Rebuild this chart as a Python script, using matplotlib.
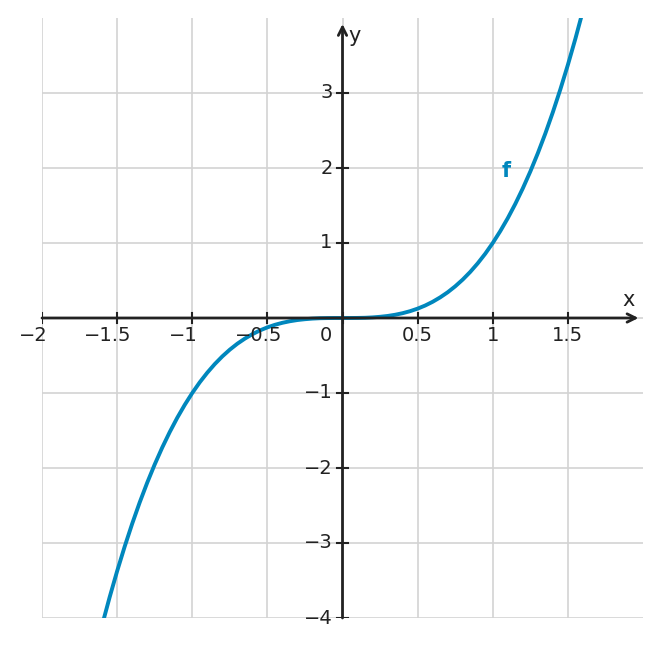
import matplotlib
matplotlib.use("Agg")
import matplotlib.pyplot as plt
from matplotlib.transforms import offset_copy

# curve points
xs = [-1.60, -1.55, -1.50, -1.45, -1.40, -1.35, -1.30, -1.25, -1.20, -1.15, -1.10, -1.05,
      -1.00, -0.95, -0.90, -0.85, -0.80, -0.75, -0.70, -0.65, -0.60, -0.55, -0.50, -0.45,
      -0.40, -0.35, -0.30, -0.25, -0.20, -0.15, -0.10, -0.05, 0.00, 0.05, 0.10, 0.15, 0.20,
      0.25, 0.30, 0.35, 0.40, 0.45, 0.50, 0.55, 0.60, 0.65, 0.70, 0.75, 0.80, 0.85, 0.90,
      0.95, 1.00, 1.05, 1.10, 1.15, 1.20, 1.25, 1.30, 1.35, 1.40, 1.45, 1.50, 1.55, 1.60]
ys = [-4.096, -3.724, -3.375, -3.049, -2.744, -2.460, -2.197, -1.953, -1.728, -1.521,
      -1.331, -1.158, -1.000, -0.857, -0.729, -0.614, -0.512, -0.422, -0.343, -0.275,
      -0.216, -0.166, -0.125, -0.091, -0.064, -0.043, -0.027, -0.016, -0.008, -0.003,
      -0.001, 0.000, 0.000, 0.000, 0.001, 0.003, 0.008, 0.016, 0.027, 0.043, 0.064, 0.091,
      0.125, 0.166, 0.216, 0.275, 0.343, 0.422, 0.512, 0.614, 0.729, 0.857, 1.000, 1.158,
      1.331, 1.521, 1.728, 1.953, 2.197, 2.460, 2.744, 3.049, 3.375, 3.724, 4.096]
xticks = [-2, -1.5, -1, -0.5, 0, 0.5, 1, 1.5]
xtick_labels = ["−2", "−1.5", "−1", "−0.5", "0", "0.5", "1", "1.5"]
yticks = [-4, -3, -2, -1, 1, 2, 3]
ytick_labels = ["−4", "−3", "−2", "−1", "1", "2", "3"]

plt.rcParams['font.family'] = ['DejaVu Sans']
fig = plt.figure(figsize=(6.61, 6.48), dpi=100)
ax = fig.add_axes([42/661, 30/648, 601/661, 600/648])
ax.set_xlim(-2, 2)
ax.set_ylim(-4, 4)
for s in ax.spines.values():
    s.set_visible(False)
ax.set_xticks([])
ax.set_yticks([])

grid_c = "#d3d3d3"
for xv in xticks:
    ax.axvline(xv, color=grid_c, lw=1.2, zorder=0)
for yv in yticks + [0]:
    ax.axhline(yv, color=grid_c, lw=1.2, zorder=0)

ax.plot(xs, ys, color="#0087bd", lw=2.8, zorder=3, solid_capstyle="butt")

axc = "#222222"
ap = dict(arrowstyle="->,head_length=0.6,head_width=0.3", color=axc, lw=2,
          shrinkA=0, shrinkB=0)
ax.annotate("", xy=(1.97, 0), xytext=(-2, 0), arrowprops=ap, zorder=4)
ax.annotate("", xy=(0, 3.92), xytext=(0, -4), arrowprops=ap, zorder=4)

fs = 14
for xv, lab in zip(xticks, xtick_labels):
    ax.plot([xv, xv], [-0.07, 0.07], color=axc, lw=1.5, zorder=4)
    if xv == 0:
        dx = -17
    elif lab.startswith("−"):
        dx = -9
    else:
        dx = 0
    tr = offset_copy(ax.transData, fig=fig, x=dx, y=0, units="dots")
    ax.text(xv, -0.11, lab, ha="center", va="top", fontsize=fs, color=axc, transform=tr)
for yv, lab in zip(yticks, ytick_labels):
    ax.plot([-0.035, 0.035], [yv, yv], color=axc, lw=1.5, zorder=4)
    ax.text(-0.065, yv, lab, ha="right", va="center", fontsize=fs, color=axc)

ax.text(1.905, 0.11, "x", ha="center", va="bottom", fontsize=15, color=axc)
ax.text(0.04, 3.76, "y", ha="left", va="center", fontsize=15, color=axc)
ax.text(1.09, 1.96, "f", ha="center", va="center", fontsize=15, color="#0087bd",
        fontweight="bold")

fig.savefig("out.png", dpi=100)
